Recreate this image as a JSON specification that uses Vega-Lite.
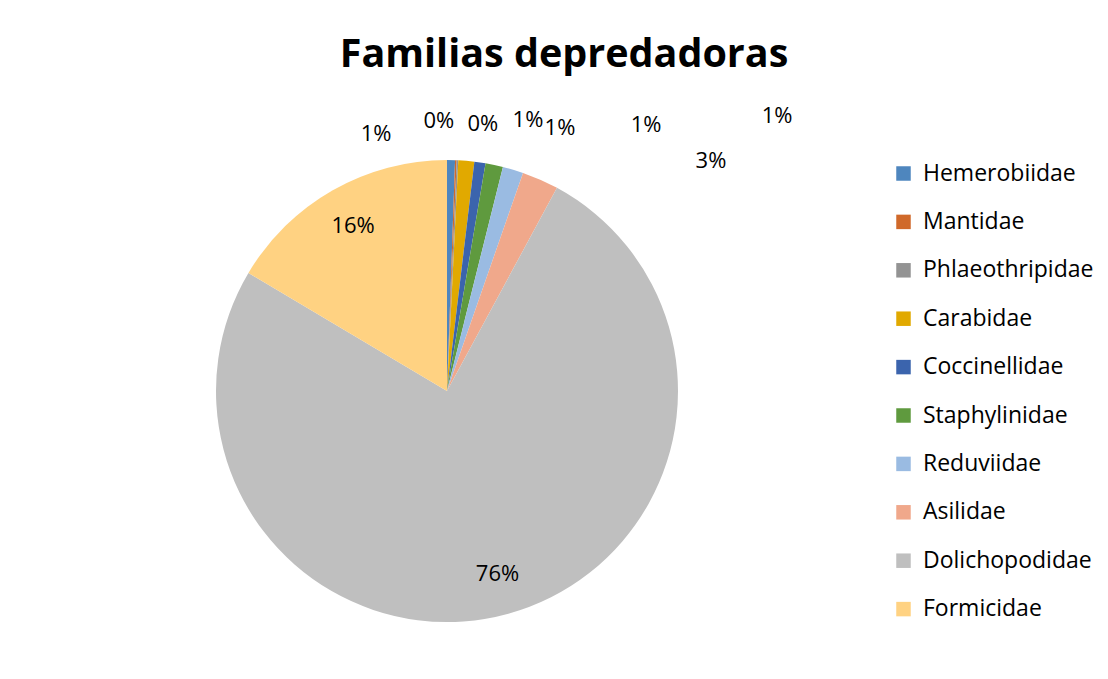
{
  "$schema": "https://vega.github.io/schema/vega-lite/v6.json",
  "width": 894,
  "height": 558,
  "autosize": {"type": "none"},
  "padding": {"left": 0, "top": 112, "right": 214, "bottom": 9},
  "background": "white",
  "config": {"view": {"stroke": null}, "font": "Open Sans"},
  "title": {
    "text": "Familias depredadoras",
    "font": "Open Sans",
    "fontSize": 39.5,
    "fontWeight": "bold",
    "color": "#000000",
    "anchor": "middle",
    "frame": "group",
    "baseline": "alphabetic",
    "dx": 117,
    "offset": -1
  },
  "data": {
    "values": [
      {"family": "Hemerobiidae", "count": 5, "idx": 1, "label": "1%"},
      {"family": "Mantidae", "count": 1, "idx": 2, "label": "0%"},
      {"family": "Phlaeothripidae", "count": 1, "idx": 3, "label": "0%"},
      {"family": "Carabidae", "count": 10, "idx": 4, "label": "1%"},
      {"family": "Coccinellidae", "count": 7, "idx": 5, "label": "1%"},
      {"family": "Staphylinidae", "count": 11, "idx": 6, "label": "1%"},
      {"family": "Reduviidae", "count": 13, "idx": 7, "label": "1%"},
      {"family": "Asilidae", "count": 23, "idx": 8, "label": "3%"},
      {"family": "Dolichopodidae", "count": 680, "idx": 9, "label": "76%"},
      {"family": "Formicidae", "count": 148, "idx": 10, "label": "16%"}
    ]
  },
  "layer": [
    {
      "mark": {"type": "arc", "outerRadius": 231},
      "encoding": {
        "theta": {"field": "count", "type": "quantitative", "stack": true},
        "order": {"field": "idx", "type": "quantitative"},
        "color": {
          "field": "family",
          "type": "nominal",
          "scale": {
            "domain": ["Hemerobiidae", "Mantidae", "Phlaeothripidae", "Carabidae", "Coccinellidae", "Staphylinidae", "Reduviidae", "Asilidae", "Dolichopodidae", "Formicidae"],
            "range": ["#4E86BE", "#D0692A", "#939393", "#E1A900", "#3B64AD", "#5F9A3E", "#9ABBE2", "#F0A88B", "#BFBFBF", "#FFD282"]
          },
          "legend": {
            "title": null,
            "orient": "none",
            "legendX": 892,
            "legendY": 50,
            "symbolType": "square",
            "symbolSize": 210,
            "symbolStrokeWidth": 0,
            "labelFont": "Open Sans",
            "labelFontSize": 23,
            "labelColor": "#000000",
            "labelOffset": 8,
            "rowPadding": 24.4,
            "padding": 0,
            "labelLimit": 300
          }
        }
      }
    },
    {
      "mark": {"type": "text", "radius": 190, "font": "Open Sans", "fontSize": 22, "color": "#000000", "align": "center", "baseline": "middle"},
      "encoding": {
        "theta": {"field": "count", "type": "quantitative", "stack": true},
        "order": {"field": "idx", "type": "quantitative"},
        "detail": {"field": "family", "type": "nominal"},
        "text": {"condition": {"test": "datum.count > 100", "field": "label"}, "value": ""}
      }
    },
    {
      "transform": [{"filter": "datum.count < 100"}],
      "mark": {"type": "text", "font": "Open Sans", "fontSize": 22, "color": "#000000", "align": "center", "baseline": "middle"},
      "encoding": {
        "theta": {
          "field": "count",
          "type": "quantitative",
          "stack": true,
          "scale": {
            "type": "linear",
            "zero": false,
            "nice": false,
            "domain": [2.5, 5.5, 6.5, 12, 20.5, 29.5, 41.5, 59.5],
            "range": [-0.2695, -0.0302, 0.1333, 0.2899, 0.4058, 0.6423, 0.8762, 0.8542]
          }
        },
        "radius": {
          "field": "count",
          "type": "quantitative",
          "scale": {
            "type": "linear",
            "zero": false,
            "nice": false,
            "domain": [1, 5, 7, 10, 11, 13, 23],
            "range": [269.7, 266.6, 286.2, 283.3, 332.2, 429.6, 350.1]
          }
        },
        "order": {"field": "idx", "type": "quantitative"},
        "detail": {"field": "family", "type": "nominal"},
        "text": {"field": "label", "type": "nominal"}
      }
    }
  ],
  "resolve": {"scale": {"theta": "independent", "radius": "independent"}}
}
